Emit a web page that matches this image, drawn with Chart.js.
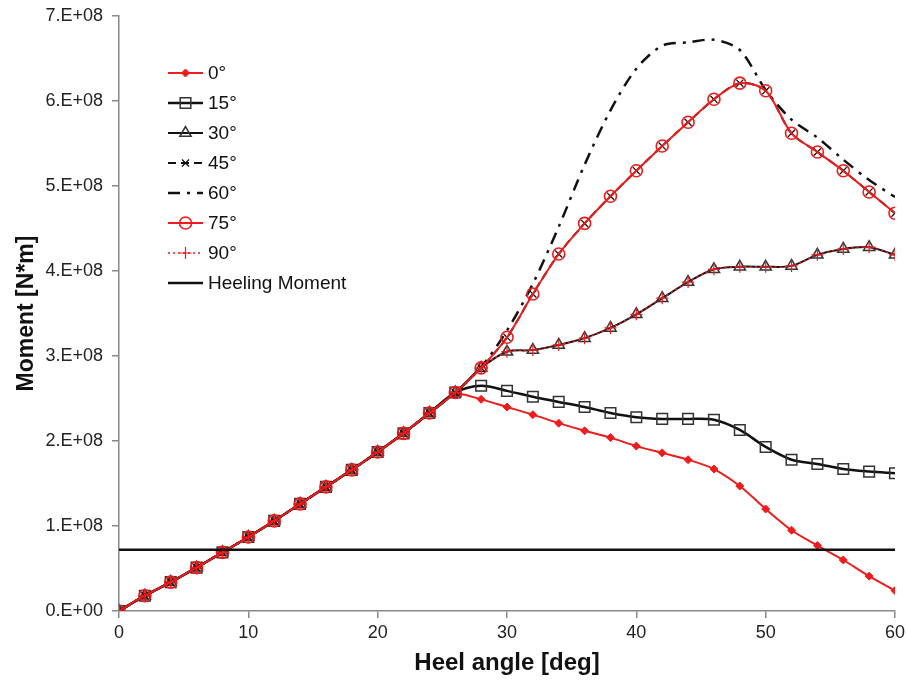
<!DOCTYPE html>
<html><head><meta charset="utf-8">
<script src="https://cdn.jsdelivr.net/npm/chart.js@4.4.1/dist/chart.umd.min.js"></script>
<style>html,body{margin:0;padding:0;background:#fff}#wrap{width:906px;height:682px;position:relative}</style>
</head><body><div id="wrap"><canvas id="c" width="906" height="682"></canvas></div>
<script>
// Heel angle [deg]
const heelAngle = [0,2,4,6,8,10,12,14,16,18,20,22,24,26,28,30,32,34,36,38,40,42,44,46,48,50,52,54,56,58,60];
// Moment values in units of 1E+08 N*m
const moment0  = [0,0.18,0.34,0.51,0.69,0.87,1.06,1.26,1.46,1.66,1.87,2.09,2.33,2.55,2.49,2.40,2.31,2.21,2.12,2.04,1.94,1.86,1.78,1.67,1.47,1.20,0.95,0.77,0.60,0.41,0.24];
const moment15 = [0,0.18,0.34,0.51,0.69,0.87,1.06,1.26,1.46,1.66,1.87,2.09,2.33,2.57,2.65,2.59,2.52,2.46,2.40,2.33,2.28,2.26,2.26,2.25,2.13,1.93,1.78,1.73,1.67,1.64,1.62];
const moment30 = [0,0.18,0.34,0.51,0.69,0.87,1.06,1.26,1.46,1.66,1.87,2.09,2.33,2.57,2.86,3.05,3.07,3.13,3.21,3.33,3.49,3.68,3.87,4.02,4.05,4.05,4.06,4.19,4.26,4.28,4.19];
const moment45 = [0,0.18,0.34,0.51,0.69,0.87,1.06,1.26,1.46,1.66,1.87,2.09,2.33,2.57,2.86,3.22,3.73,4.20,4.56,4.88,5.18,5.47,5.75,6.02,6.21,6.12,5.62,5.40,5.18,4.93,4.68];
const moment60 = [0,0.18,0.34,0.51,0.69,0.87,1.06,1.26,1.46,1.66,1.87,2.09,2.33,2.57,2.87,3.30,3.85,4.52,5.25,5.89,6.38,6.65,6.69,6.72,6.60,6.13,5.78,5.57,5.31,5.07,4.87];
const moment75 = [0,0.18,0.34,0.51,0.69,0.87,1.06,1.26,1.46,1.66,1.87,2.09,2.33,2.57,2.86,3.22,3.73,4.20,4.56,4.88,5.18,5.47,5.75,6.02,6.21,6.12,5.62,5.40,5.18,4.93,4.68];
const moment90 = [0,0.18,0.34,0.51,0.69,0.87,1.06,1.26,1.46,1.66,1.87,2.09,2.33,2.57,2.86,3.05,3.07,3.13,3.21,3.33,3.49,3.68,3.87,4.02,4.05,4.05,4.06,4.19,4.26,4.28,4.19];
const heelingAngle = [0,60];
const heelingMoment = [0.72,0.72];
const seriesLabels = ['0°','15°','30°','45°','60°','75°','90°','Heeling Moment'];
const yTickLabels = ['0.E+00','1.E+08','2.E+08','3.E+08','4.E+08','5.E+08','6.E+08','7.E+08'];
const xTickLabels = ['0','10','20','30','40','50','60'];

const pts = (xs, ys) => xs.map((x,i)=>({x:x, y:ys[i]}));
const RED = '#ee1c1c', BLK = '#111111';
const FONT = '"Liberation Sans", Arial, sans-serif';

const datasets = [
 {label:seriesLabels[0], data:pts(heelAngle,moment0), borderColor:RED, borderWidth:2,
  pointStyle:'rectRot', pointRadius:4, pointBackgroundColor:RED, pointBorderColor:RED, pointBorderWidth:1},
 {label:seriesLabels[1], data:pts(heelAngle,moment15), borderColor:BLK, borderWidth:2.5,
  pointStyle:'rect', pointRadius:7.5, pointBackgroundColor:'rgba(0,0,0,0)', pointBorderColor:'#333', pointBorderWidth:1.5},
 {label:seriesLabels[2], data:pts(heelAngle,moment30), borderColor:BLK, borderWidth:2,
  pointStyle:'triangle', pointRadius:6.5, pointBackgroundColor:'rgba(0,0,0,0)', pointBorderColor:'#333', pointBorderWidth:1.5},
 {label:seriesLabels[3], data:pts(heelAngle,moment45), borderColor:BLK, borderWidth:2, borderDash:[8,5],
  pointStyle:'crossRot', pointRadius:5, pointBackgroundColor:BLK, pointBorderColor:BLK, pointBorderWidth:1.3},
 {label:seriesLabels[4], data:pts(heelAngle,moment60), borderColor:BLK, borderWidth:2.5, borderDash:[12,7,3,7],
  pointStyle:'circle', pointRadius:0, pointBackgroundColor:BLK, pointBorderColor:BLK, pointBorderWidth:0},
 {label:seriesLabels[5], data:pts(heelAngle,moment75), borderColor:RED, borderWidth:2,
  pointStyle:'circle', pointRadius:6, pointBackgroundColor:'rgba(0,0,0,0)', pointBorderColor:RED, pointBorderWidth:1.6},
 {label:seriesLabels[6], data:pts(heelAngle,moment90), borderColor:RED, borderWidth:1.5, borderDash:[2,3],
  pointStyle:'cross', pointRadius:6, pointBackgroundColor:RED, pointBorderColor:RED, pointBorderWidth:1.2},
 {label:seriesLabels[7], data:pts(heelingAngle,heelingMoment), borderColor:BLK, borderWidth:2.5,
  pointStyle:'circle', pointRadius:0, pointBackgroundColor:BLK, pointBorderColor:BLK, pointBorderWidth:0}
];
datasets.forEach((d,i)=>{ d.order = 20 - i; d.tension = 0.3; d.fill = false; d.pointHoverRadius = d.pointRadius; });

const legendPlugin = {
  id:'insideLegend',
  afterDraw(chart){
    const ctx = chart.ctx, a = chart.chartArea;
    const x0 = a.left + 49, x1 = x0 + 35, tx = x1 + 5;
    chart.data.datasets.forEach((ds,i)=>{
      const yy = a.top + 57 + i*30;
      ctx.save();
      ctx.strokeStyle = ds.borderColor; ctx.lineWidth = ds.borderWidth;
      ctx.setLineDash(ds.borderDash || []);
      ctx.beginPath(); ctx.moveTo(x0,yy); ctx.lineTo(x1,yy); ctx.stroke();
      ctx.setLineDash([]);
      if (ds.pointRadius > 0) {
        ctx.fillStyle = ds.pointBackgroundColor; ctx.strokeStyle = ds.pointBorderColor; ctx.lineWidth = ds.pointBorderWidth;
        Chart.helpers.drawPoint(ctx, {pointStyle:ds.pointStyle, radius:ds.pointRadius, rotation:0, borderWidth:ds.pointBorderWidth}, (x0+x1)/2, yy);
      }
      ctx.fillStyle = '#111'; ctx.font = '19px ' + FONT; ctx.textBaseline = 'middle'; ctx.textAlign = 'left';
      ctx.fillText(ds.label, tx, yy + 1);
      ctx.restore();
    });
  }
};

new Chart(document.getElementById('c'), {
  type:'line',
  data:{datasets:datasets},
  plugins:[legendPlugin],
  options:{
    responsive:false, devicePixelRatio:1, animation:false,
    layout:{padding:{top:16, right:11, bottom:0, left:0}},
    plugins:{legend:{display:false}, tooltip:{enabled:false}},
    scales:{
      x:{type:'linear', min:0, max:60,
        afterFit:(s)=>{ s.height = 71; s.paddingRight = 0; s.paddingLeft = 0; },
        ticks:{stepSize:10, color:'#222', padding:4, font:{family:FONT, size:18},
          callback:(v,i)=>xTickLabels[i]},
        grid:{display:true, drawOnChartArea:false, drawTicks:true, tickLength:7, color:'#888', lineWidth:1.5},
        border:{display:true, color:'#888', width:1.5},
        title:{display:true, text:'Heel angle [deg]', color:'#111', font:{family:FONT, size:24, weight:'bold'}, padding:{top:2, bottom:4}}
      },
      y:{type:'linear', min:0, max:7,
        afterFit:(s)=>{ s.width = 119; s.paddingTop = 0; s.paddingBottom = 0; },
        ticks:{stepSize:1, color:'#222', padding:9, font:{family:FONT, size:18},
          callback:(v,i)=>yTickLabels[i]},
        grid:{display:true, drawOnChartArea:false, drawTicks:true, tickLength:7, color:'#888', lineWidth:1.5},
        border:{display:true, color:'#888', width:1.5},
        title:{display:true, text:'Moment [N*m]', color:'#111', font:{family:FONT, size:23, weight:'bold'}, padding:{top:13, bottom:0}}
      }
    }
  }
});
</script></body></html>
